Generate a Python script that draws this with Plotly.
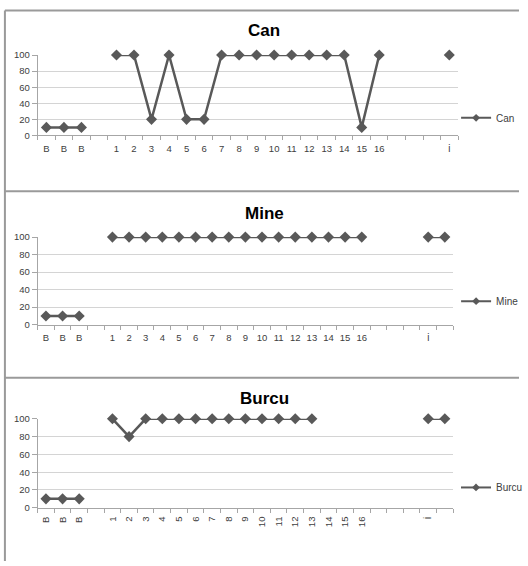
import plotly.graph_objects as go

# ---- data ----
can_labels = ["B", "B", "B", "", "1", "2", "3", "4", "5", "6", "7", "8", "9", "10",
              "11", "12", "13", "14", "15", "16", "", "", "", "İ"]
can_values = [10, 10, 10, None, 100, 100, 20, 100, 20, 20, 100, 100, 100, 100,
              100, 100, 100, 100, 10, 100, None, None, None, 100]

mb_labels = ["B", "B", "B", "", "1", "2", "3", "4", "5", "6", "7", "8", "9", "10",
             "11", "12", "13", "14", "15", "16", "", "", "", "İ", ""]
mine_values = [10, 10, 10, None, 100, 100, 100, 100, 100, 100, 100, 100, 100, 100,
               100, 100, 100, 100, 100, 100, None, None, None, 100, 100]
burcu_values = [10, 10, 10, None, 100, 80, 100, 100, 100, 100, 100, 100, 100, 100,
                100, 100, 100, None, None, None, None, None, None, 100, 100]

y_ticks = [0, 20, 40, 60, 80, 100]

W, H = 528, 566
FONT = "Liberation Sans"
LINE_C = "#595959"
GRID_C = "#d4d4d4"
AXIS_C = "#a6a6a6"
BORDER_C = "#9a9a9a"

def px_x(p):
    return p / W

def px_y(p):
    return 1 - p / H

panels = [
    dict(name="Can", labels=can_labels, values=can_values,
         xdom=[px_x(38.3), px_x(466)], ydom=[px_y(132), px_y(50)],
         title_y=25, legend_y=114, angle=0),
    dict(name="Mine", labels=mb_labels, values=mine_values,
         xdom=[px_x(38.3), px_x(461)], ydom=[px_y(325), px_y(235.7)],
         title_y=212, legend_y=301, angle=0),
    dict(name="Burcu", labels=mb_labels, values=burcu_values,
         xdom=[px_x(38.3), px_x(461)], ydom=[px_y(511.7), px_y(421)],
         title_y=400, legend_y=491, angle=-90),
]

fig = go.Figure()
layout = dict(
    width=W, height=H,
    margin=dict(l=0, r=0, t=0, b=0),
    paper_bgcolor="white", plot_bgcolor="white",
    font=dict(family=FONT, size=10, color="#404040"),
    annotations=[], shapes=[],
)

for i, p in enumerate(panels):
    k = "" if i == 0 else str(i + 1)
    n = len(p["labels"])
    leg = "legend" if i == 0 else f"legend{i+1}"
    fig.add_trace(go.Scatter(
        x=list(range(n)), y=p["values"], name=p["name"],
        mode="lines+markers", connectgaps=False, cliponaxis=False,
        line=dict(color=LINE_C, width=2.5),
        marker=dict(symbol="diamond", size=8.5, color=LINE_C),
        xaxis="x" + k, yaxis="y" + k, showlegend=False,
    ))
    # legend entry (smaller symbol, like the reference legend key)
    fig.add_trace(go.Scatter(
        x=[None], y=[None], name=p["name"], mode="lines+markers",
        line=dict(color=LINE_C, width=2),
        marker=dict(symbol="diamond", size=6, color=LINE_C),
        xaxis="x" + k, yaxis="y" + k, legend=leg, showlegend=True,
    ))
    layout["xaxis" + k] = dict(
        domain=p["xdom"], anchor="y" + k, range=[-0.5, n - 0.5],
        tickmode="array", tickvals=list(range(n)), ticktext=p["labels"],
        ticks="outside", ticklen=4, tickcolor="rgba(0,0,0,0)",
        tickangle=p["angle"], tickfont=dict(size=9.5, color="#404040"),
        showgrid=False, zeroline=False, showline=True, linecolor=AXIS_C, linewidth=1,
        minor=dict(tickmode="array", tickvals=[j - 0.5 for j in range(n + 1)],
                   ticks="outside", ticklen=4, tickcolor=AXIS_C, showgrid=False),
        fixedrange=True,
    )
    layout["yaxis" + k] = dict(
        domain=p["ydom"], anchor="x" + k, range=[0, 100],
        tickmode="array", tickvals=y_ticks,
        ticks="outside", ticklen=5, tickcolor=AXIS_C,
        tickfont=dict(size=9.5, color="#404040"),
        showgrid=True, gridcolor=GRID_C, gridwidth=1, zeroline=False,
        showline=True, linecolor=AXIS_C, linewidth=1, fixedrange=True,
    )
    layout["annotations"].append(dict(
        text="<b>%s</b>" % p["name"], x=px_x(269), y=px_y(p["title_y"]),
        xref="paper", yref="paper", xanchor="center", yanchor="middle",
        showarrow=False, font=dict(family=FONT, size=17, color="#000000"),
    ))
    layout[leg] = dict(
        x=px_x(464), y=px_y(p["legend_y"]), xanchor="left", yanchor="middle",
        xref="paper", yref="paper", bgcolor="rgba(0,0,0,0)",
        font=dict(family=FONT, size=10, color="#404040"),
        itemwidth=30,
    )

# chart borders
layout["shapes"] = [
    dict(type="line", xref="paper", yref="paper", x0=px_x(5), x1=1, y0=px_y(4.5), y1=px_y(4.5),
         line=dict(color=BORDER_C, width=2)),
    dict(type="line", xref="paper", yref="paper", x0=px_x(5), x1=px_x(5), y0=px_y(4.5), y1=0,
         line=dict(color=BORDER_C, width=2)),
    dict(type="line", xref="paper", yref="paper", x0=px_x(5), x1=1, y0=px_y(189), y1=px_y(189),
         line=dict(color=BORDER_C, width=2)),
    dict(type="line", xref="paper", yref="paper", x0=px_x(5), x1=1, y0=px_y(379), y1=px_y(379),
         line=dict(color=BORDER_C, width=2)),
]

fig.update_layout(**layout)
fig.write_html(
    "out.html",
    config={"displayModeBar": False, "staticPlot": True},
    post_script="document.body.style.margin='0';document.body.style.overflow='hidden';",
)
